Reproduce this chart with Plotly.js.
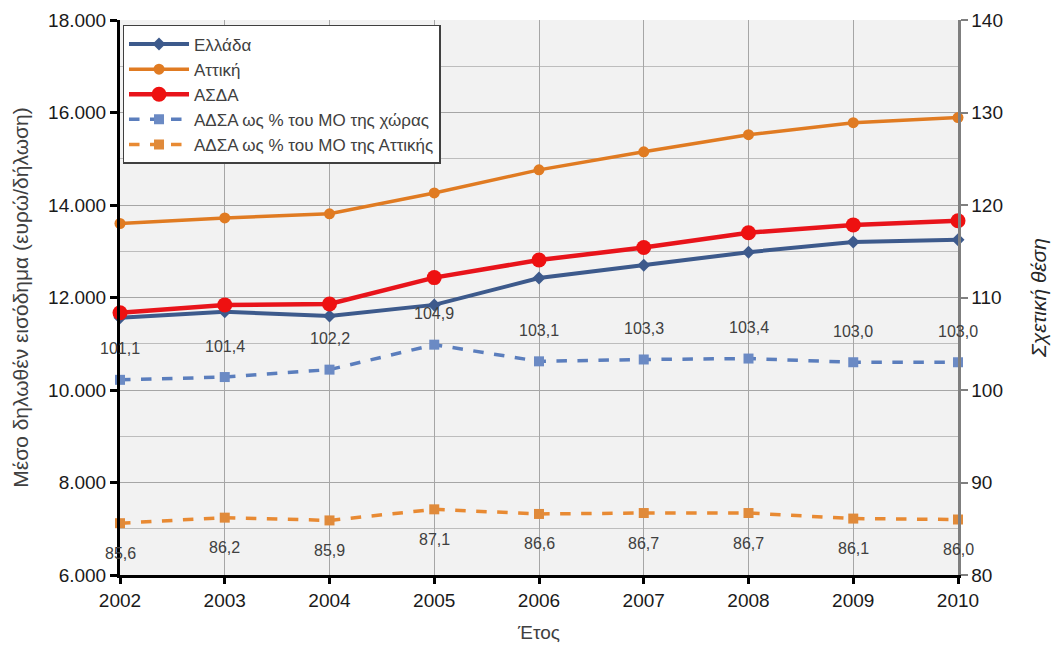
<!DOCTYPE html>
<html>
<head>
<meta charset="utf-8">
<script src="https://cdn.plot.ly/plotly-3.0.1.min.js"></script>
<style>html,body{margin:0;padding:0;background:#fff;}#chart{width:1060px;height:653px;}</style>
</head>
<body>
<div id="chart"></div>
<script>
var years = [2002, 2003, 2004, 2005, 2006, 2007, 2008, 2009, 2010];
var ellada = [11560, 11690, 11600, 11840, 12420, 12700, 12980, 13200, 13250];
var attiki = [13600, 13720, 13810, 14260, 14760, 15150, 15520, 15780, 15890];
var asda = [11670, 11840, 11860, 12430, 12810, 13080, 13400, 13570, 13660];
var pctCountry = [101.1, 101.4, 102.2, 104.9, 103.1, 103.3, 103.4, 103.0, 103.0];
var pctAttiki = [85.6, 86.2, 85.9, 87.1, 86.6, 86.7, 86.7, 86.1, 86.0];
var names = ["Ελλάδα", "Αττική", "ΑΣΔΑ", "ΑΔΣΑ ως % του ΜΟ της χώρας", "ΑΔΣΑ ως % του ΜΟ της Αττικής"];

var fontMain = "Liberation Sans, Arial, sans-serif";

var traces = [
  {x: years, y: ellada, name: names[0], type: "scatter", mode: "lines+markers", cliponaxis: false,
   line: {color: "#3D5A8C", width: 4}, marker: {symbol: "diamond", size: 10, color: "#3D5A8C"}},
  {x: years, y: attiki, name: names[1], type: "scatter", mode: "lines+markers", cliponaxis: false,
   line: {color: "#E07B22", width: 3.5}, marker: {symbol: "circle", size: 11, color: "#E07B22"}},
  {x: years, y: asda, name: names[2], type: "scatter", mode: "lines+markers", cliponaxis: false,
   line: {color: "#E8141B", width: 4.5}, marker: {symbol: "circle", size: 15, color: "#EE1111"}},
  {x: years, y: pctCountry, name: names[3], type: "scatter", mode: "lines+markers", yaxis: "y2", cliponaxis: false,
   line: {color: "#5B7EBD", width: 3.5, dash: "dash"}, marker: {symbol: "square", size: 10, color: "#6B8AC4"}},
  {x: years, y: pctAttiki, name: names[4], type: "scatter", mode: "lines+markers", yaxis: "y2", cliponaxis: false,
   line: {color: "#E88A33", width: 3.5, dash: "dash"}, marker: {symbol: "square", size: 10, color: "#E08A3A"}}
];

function fmt(v) { return v.toFixed(1).replace(".", ","); }
var annotations = [];
for (var i = 0; i < years.length; i++) {
  annotations.push({x: years[i], y: pctCountry[i], xref: "x", yref: "y2", text: fmt(pctCountry[i]),
    showarrow: false, yshift: 31, font: {family: fontMain, size: 16, color: "#404040"}});
  annotations.push({x: years[i], y: pctAttiki[i], xref: "x", yref: "y2", text: fmt(pctAttiki[i]),
    showarrow: false, yshift: -30, font: {family: fontMain, size: 16, color: "#404040"}});
}

var layout = {
  width: 1060, height: 653,
  margin: {l: 120, r: 102, t: 20, b: 78},
  paper_bgcolor: "#ffffff",
  plot_bgcolor: "#F2F2F2",
  separators: ",.",
  showlegend: true,
  legend: {x: 0.003, y: 0.991, xanchor: "left", yanchor: "top", bgcolor: "#ffffff",
    bordercolor: "#404040", borderwidth: 1.5, itemwidth: 60,
    font: {family: fontMain, size: 17, color: "#404040"}, tracegroupgap: 0},
  xaxis: {range: [2002, 2010], tickmode: "array", tickvals: years, ticktext: years.map(String),
    showgrid: true, gridcolor: "#A6A6A6", gridwidth: 1, zeroline: false,
    showline: true, linecolor: "#000000", linewidth: 3, ticks: "outside", ticklen: 6, tickwidth: 3, tickcolor: "#000",
    tickfont: {family: fontMain, size: 19, color: "#1a1a1a"},
    title: {text: "Έτος", font: {family: fontMain, size: 19, color: "#404040"}, standoff: 16}},
  yaxis: {range: [6000, 18000], dtick: 2000, tickformat: ",.0f",
    showgrid: true, gridcolor: "#A6A6A6", gridwidth: 1, zeroline: false,
    minor: {dtick: 1000, showgrid: true, gridcolor: "#BDBDBD", gridwidth: 1},
    showline: true, linecolor: "#000000", linewidth: 3, ticks: "outside", ticklen: 7, tickwidth: 3, tickcolor: "#000",
    tickfont: {family: fontMain, size: 19, color: "#1a1a1a"},
    title: {text: "Μέσο δηλωθέν εισόδημα (ευρώ/δήλωση)", font: {family: fontMain, size: 21, color: "#404040"}, standoff: 14}},
  yaxis2: {range: [80, 140], dtick: 10, overlaying: "y", side: "right",
    showgrid: false, zeroline: false,
    showline: true, linecolor: "#7F7F7F", linewidth: 2.5, ticks: "outside", ticklen: 7, tickwidth: 2, tickcolor: "#7F7F7F",
    tickfont: {family: fontMain, size: 19, color: "#1a1a1a"},
    title: {text: "<i>Σχετική θέση</i>", font: {family: fontMain, size: 21, color: "#262626"}, standoff: 30}},
  annotations: annotations
};

Plotly.newPlot("chart", traces, layout, {displayModeBar: false, staticPlot: true});
</script>
</body>
</html>
